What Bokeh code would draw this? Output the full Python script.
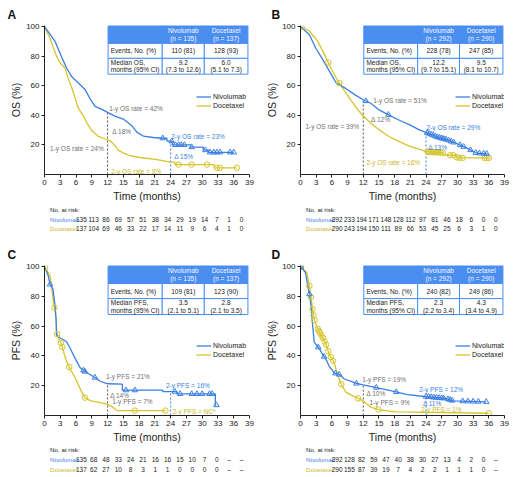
import numpy as np
from bokeh.plotting import figure
from bokeh.models import Range1d, FixedTicker, Legend, LegendItem
from bokeh.layouts import row, column
from bokeh.embed import file_html
from bokeh.resources import INLINE
from bokeh.core.properties import value

# ---------------- data ----------------
MONTH_TICKS = [0, 3, 6, 9, 12, 15, 18, 21, 24, 27, 30, 33, 36, 39]
PCT_TICKS = [20, 40, 60, 80, 100]
ARMS = ["Nivolumab", "Docetaxel"]

# Panel A (OS)
a_niv_t = [0, 1.0, 2.0, 2.6, 3.3, 4.2, 5.2, 6.1, 7.7, 8.7, 9.6, 10.9, 12.0, 13.4, 15.0, 16.6, 17.6, 18.8, 20.7, 22.6,
           23.3, 23.3, 24.3, 24.3, 27.8, 27.8, 30.2, 30.2, 31.2, 31.2, 36.0]
a_niv_s = [100, 95, 90, 85, 79, 72, 66, 63, 57.5, 51, 46, 44, 42, 39.5, 37.5, 33, 28.5, 26, 25, 24.5,
           24.5, 22.5, 22.5, 20, 20, 18.5, 18.5, 16.5, 16.5, 15, 15]
a_niv_cens = [22.5, 24.2, 24.9, 25.5, 26.0, 26.6, 28.0, 30.6, 31.5, 32.2, 32.8, 33.4, 35.3, 36.0]
a_doc_t = [0, 1.05, 1.7, 2.3, 2.95, 3.9, 4.5, 5.2, 5.8, 6.4, 7.4, 8.2, 9.0, 10.2, 11.5, 12.6, 13.4, 14.0, 15.0, 16.5,
           18.2, 21.4, 24.0, 24.8, 24.8, 32.3, 32.3, 36.6]
a_doc_s = [100, 92, 85.5, 80, 75.5, 72, 65, 58.5, 52, 45, 39.5, 34, 29.5, 26, 24, 22.5, 19.5, 16.5, 14.5, 12.5,
           11.5, 10, 8.3, 8.3, 6.7, 6.7, 4.5, 4.5]
a_doc_cens = [25.5, 28.0, 30.9, 32.8, 33.4, 36.6]
a_heads = [("Nivolumab", "(n = 135)"), ("Docetaxel", "(n = 137)")]
a_events = ["110 (81)", "128 (93)"]
a_median = [("9.2", "(7.3 to 12.6)"), ("6.0", "(5.1 to 7.3)")]
a_risk_niv = [135, 113, 86, 69, 57, 51, 38, 34, 29, 19, 14, 7, 1, 0]
a_risk_doc = [137, 104, 69, 46, 33, 22, 17, 14, 11, 9, 6, 4, 1, 0]
a_notes = ["1-y OS rate = 42%", "Δ 18%", "1-y OS rate = 24%", "2-y OS rate = 23%", "Δ 15%", "2-y OS rate = 8%"]

# Panel B (OS)
b_niv_t = [0, 1.7, 2.9, 4.2, 5.5, 6.8, 8.7, 10.6, 12.0, 13.5, 15.1, 17.0, 19.0, 20.9, 22.8, 24.0, 26.0, 28.0, 29.8,
           31.7, 33.6, 35.8]
b_niv_s = [100, 94.5, 85.5, 78, 70, 62, 58, 53.5, 50.5, 48, 43.5, 40, 36.5, 33.5, 30, 28.5, 25.5, 23.5, 21,
           18, 14.5, 14]
b_niv_cens = [12.5, 16.8, 24.2, 24.6, 25.0, 25.4, 25.8, 26.2, 26.6, 27.0, 27.4, 27.8, 28.3, 28.8, 29.3, 30.5, 31.2,
              32.5, 33.5, 34.2, 35.0, 35.6]
b_doc_t = [0, 1.7, 3.3, 4.6, 5.8, 7.1, 8.4, 9.7, 11.0, 12.0, 13.5, 15.1, 17.0, 19.0, 20.9, 22.8, 24.0, 27.2, 27.6,
           29.6, 30.0, 36.0]
b_doc_s = [100, 97, 90, 81, 72, 63.5, 56.5, 50, 43.5, 39.5, 34.5, 30, 25.5, 22, 19, 17, 15.5, 14.8, 13,
           13, 11.2, 11.2]
b_doc_cens = [0.2, 5.3, 7.4, 24.3, 24.6, 24.9, 25.2, 25.5, 25.8, 26.1, 26.4, 26.8, 27.2, 28.6, 29.2, 29.9, 30.4,
              31.0, 35.2, 35.6, 36.0]
b_heads = [("Nivolumab", "(n = 292)"), ("Docetaxel", "(n = 290)")]
b_events = ["228 (78)", "247 (85)"]
b_median = [("12.2", "(9.7 to 15.1)"), ("9.5", "(8.1 to 10.7)")]
b_risk_niv = [292, 233, 194, 171, 148, 128, 112, 97, 81, 46, 18, 6, 0, 0]
b_risk_doc = [290, 243, 194, 150, 111, 89, 66, 53, 45, 25, 6, 3, 1, 0]
b_notes = ["1-y OS rate = 51%", "Δ 12%", "1-y OS rate = 39%", "2-y OS rate = 29%", "Δ 13%", "2-y OS rate = 16%"]

# Panel C (PFS)
c_niv_t = [0, 0.7, 1.05, 1.6, 2.0, 2.2, 2.3, 3.0, 4.2, 4.9, 5.8, 6.8, 7.7, 9.6, 10.6, 12.0, 14.8, 14.8, 22.5,
           22.5, 25.2, 25.2, 32.5, 32.5, 32.7]
c_niv_s = [100, 94, 88, 85, 74, 65, 54, 52, 49.5, 45, 38.5, 32, 29.5, 25.5, 23, 21.3, 21, 17, 17,
           16, 16, 14.5, 14.5, 7, 7]
c_niv_cens = [1.05, 7.4, 7.7, 9.6, 15.5, 17.2, 24.8, 25.8, 28.0, 29.0, 30.0, 31.4, 31.9, 32.7]
c_doc_t = [0, 1.05, 1.4, 1.7, 1.9, 2.2, 2.3, 2.6, 3.3, 3.6, 4.2, 4.9, 5.8, 6.4, 7.1, 7.7, 8.7, 10.6, 12.0, 12.8,
           13.8, 23.0]
c_doc_s = [100, 94, 85, 76, 72.5, 65, 56, 52, 47.5, 43, 36.5, 31, 25.5, 21, 15.5, 12, 10, 8.7, 7.5, 6,
           3.3, 3.3]
c_doc_cens = [0.1, 1.9, 2.4, 3.1, 3.4, 4.7, 7.7, 17.2, 23.0]
c_heads = [("Nivolumab", "(n = 135)"), ("Docetaxel", "(n = 137)")]
c_events = ["109 (81)", "123 (90)"]
c_median = [("3.5", "(2.1 to 5.1)"), ("2.8", "(2.1 to 3.5)")]
c_risk_niv = [135, 68, 48, 33, 24, 21, 16, 16, 15, 10, 7, 0, None, None]
c_risk_doc = [137, 62, 27, 10, 8, 3, 1, 1, 0, 0, 0, 0, None, None]
c_notes = ["1-y PFS = 21%", "Δ 14%", "1-y PFS = 7%", "2-y PFS = 16%", "2-y PFS = NC*"]

# Panel D (PFS)
d_niv_t = [0, 0.95, 1.4, 1.7, 2.0, 2.2, 2.5, 2.6, 3.0, 3.6, 4.3, 4.9, 5.5, 6.5, 7.4, 8.4, 10.7, 12.0, 14.5, 18.3,
           20.2, 22.8, 24.0, 27.9, 29.2, 35.5]
d_niv_s = [100, 96, 87, 81.5, 74, 65, 54, 49.5, 47.5, 45, 40.5, 37.5, 33, 28.5, 27.5, 24.5, 21.5, 20.5, 18.7, 15.8,
           14.2, 13.1, 12.7, 11.4, 9.8, 9.2]
d_niv_cens = [0.1, 1.7, 3.4, 4.5, 6.7, 7.4, 10.7, 14.5, 18.3, 24.0, 24.5, 25.0, 25.5, 26.0, 26.5, 27.0, 27.4, 28.2,
              28.6, 29.0, 31.0, 32.0, 33.0, 34.0, 35.5]
d_doc_t = [0, 1.2, 1.7, 2.0, 2.3, 2.6, 3.0, 3.6, 4.3, 4.9, 5.5, 6.5, 7.1, 7.8, 8.7, 10.7, 12.0, 13.5, 15.1, 18.3,
           36.0]
d_doc_s = [100, 96, 87, 79.5, 71.5, 65, 60.5, 56, 52, 47.5, 41, 35, 27, 21, 15.5, 12, 9.8, 5.4, 3.8, 2.5, 1.5]
d_doc_cens = [0.1, 1.7, 2.0, 2.3, 2.5, 2.7, 3.3, 3.5, 3.7, 4.0, 4.3, 4.6, 4.9, 5.3, 5.8, 6.2, 7.8, 11.0, 14.9, 36.0]
d_heads = [("Nivolumab", "(n = 292)"), ("Docetaxel", "(n = 290)")]
d_events = ["240 (82)", "249 (86)"]
d_median = [("2.3", "(2.2 to 3.4)"), ("4.3", "(3.4 to 4.9)")]
d_risk_niv = [292, 128, 82, 59, 47, 40, 38, 30, 27, 13, 4, 2, 0, None]
d_risk_doc = [290, 155, 87, 39, 19, 7, 4, 2, 2, 1, 1, 1, 0, None]
d_notes = ["1-y PFS = 19%", "Δ 10%", "1-y PFS = 9%", "2-y PFS = 12%", "Δ 11%", "2-y PFS = 1%"]

# ---------------- styles / layout ----------------
FONT = "Liberation Sans"
BLUE = "#3b7fe3"
BLUE_HDR = "#4a8ef0"
YELLOW = "#d6c52c"
YELLOW_TXT = "#c9b825"
GRAY_TXT = "#707070"
DASH_GRAY = "#555555"
INK = "#222222"
NOTE_COLORS = {"g": GRAY_TXT, "b": BLUE, "y": YELLOW_TXT}

a_note_pos = [(12.3, 44.3, "g"), (12.9, 28.9, "g"), (1.05, 17.4, "g"), (24.1, 25.5, "b"), (24.7, 12.1, "b"), (12.7, 2.3, "y")]
b_note_pos = [(13.9, 50.0, "g"), (13.5, 37.3, "g"), (0.95, 32.2, "g"), (24.1, 31.8, "b"), (24.4, 18.2, "b"), (12.6, 7.8, "y")]
c_note_pos = [(11.7, 26.2, "g"), (12.5, 13.6, "g"), (12.9, 9.2, "g"), (23.1, 20.4, "b"), (24.4, 2.5, "y")]
d_note_pos = [(11.8, 24.2, "g"), (12.6, 14.7, "g"), (13.2, 8.7, "g"), (22.7, 17.5, "b"), (23.4, 8.1, "b"), (23.1, 3.8, "y")]


def txt(fig, xs, ys, texts, color, align="left", size="6.5px", style="normal"):
    fig.text(x=xs, y=ys, text=texts, text_align=align, text_baseline="middle",
             text_font=value(FONT), text_font_size=value(size), text_color=color,
             text_font_style=style)


def build(letter, ylabel, side, half, niv_t, niv_s, niv_c, doc_t, doc_s, doc_c,
          heads, events, median, med_label, risk_niv, risk_doc, notes, note_pos, legend_row):
    if side == "L":
        W, bl, br, toff, leg_x = 256, 44, 7, -37, 152
    else:
        W, bl, br, toff, leg_x = 256, 44, 8, -29, 155
    if half == "T":
        H, bt, bb, stand, HR, r0, sp = 204, 25, 30, 6.5, 34, 5, 9.5
    else:
        H, bt, bb, stand, HR, r0, sp = 207, 27, 30, 6.5, 31, 4, 10
    fw = W - bl - br
    fh = H - bt - bb

    p = figure(width=W, height=H, x_range=Range1d(0, 39), y_range=Range1d(0, 100.7), title=letter,
               output_backend="svg", toolbar_location=None,
               min_border_left=bl, min_border_right=br, min_border_top=bt, min_border_bottom=bb)
    p.title.text_font = FONT
    p.title.text_font_size = "12px"
    p.title.text_font_style = "bold"
    p.title.text_color = "#111111"
    p.title.align = "left"
    p.title.offset = toff
    p.title.standoff = stand
    p.outline_line_color = None
    p.grid.visible = False
    p.background_fill_color = "white"
    p.border_fill_color = "white"
    p.xaxis.ticker = FixedTicker(ticks=MONTH_TICKS)
    p.yaxis.ticker = FixedTicker(ticks=PCT_TICKS)
    p.xaxis.axis_label = "Time (months)"
    p.yaxis.axis_label = ylabel
    for ax in p.axis:
        ax.axis_line_color = INK
        ax.major_tick_line_color = INK
        ax.minor_tick_line_color = None
        ax.major_tick_out = 3
        ax.major_tick_in = 0
        ax.major_label_text_font = FONT
        ax.major_label_text_font_size = "8px"
        ax.major_label_text_color = INK
        ax.major_label_standoff = 2
        ax.axis_label_text_font = FONT
        ax.axis_label_text_font_size = "10.5px"
        ax.axis_label_text_font_style = "normal"
        ax.axis_label_text_color = INK
    p.xaxis.axis_label_standoff = 2
    p.yaxis.axis_label_standoff = 1

    # summary table inside the plot
    xe = [12.1, 22.4, 30.4, 38.7]
    ye = [100.6, 88.6, 78.5, 67.8]
    L, R, T, B, F = [], [], [], [], []
    for r_ in range(3):
        for c_ in range(3):
            L.append(xe[c_]); R.append(xe[c_ + 1]); T.append(ye[r_]); B.append(ye[r_ + 1])
            F.append(BLUE_HDR if r_ == 0 else "white")
    p.quad(left=L, right=R, top=T, bottom=B, fill_color=F, line_color=BLUE_HDR, line_width=1)
    cx = [(xe[1] + xe[2]) / 2, (xe[2] + xe[3]) / 2]
    hmid = (ye[0] + ye[1]) / 2
    emid = (ye[1] + ye[2]) / 2
    mmid = (ye[2] + ye[3]) / 2
    txt(p, cx * 2, [hmid + 2.5] * 2 + [hmid - 2.5] * 2,
        [heads[0][0], heads[1][0], heads[0][1], heads[1][1]], "#f4f8ff", "center")
    txt(p, [xe[0] + 0.5], [emid], ["Events, No. (%)"], INK)
    txt(p, cx, [emid] * 2, events, INK, "center")
    txt(p, [xe[0] + 0.5] * 2, [mmid + 2.5, mmid - 2.5], [med_label, "months (95% CI)"], INK)
    txt(p, cx * 2, [mmid + 2.5] * 2 + [mmid - 2.5] * 2,
        [median[0][0], median[1][0], median[0][1], median[1][1]], INK, "center")

    # landmark dashed lines
    top12 = float(np.interp(12, niv_t, niv_s))
    top24 = float(np.interp(24, niv_t, niv_s))
    p.segment(x0=[12], y0=[0], x1=[12], y1=[top12], line_color=DASH_GRAY, line_dash="2 2", line_width=1)
    p.segment(x0=[24], y0=[0], x1=[24], y1=[top24], line_color=BLUE, line_dash="2 2", line_width=1)

    # curves
    doc_line = p.line(doc_t, doc_s, line_color=YELLOW, line_width=1.3)
    niv_line = p.line(niv_t, niv_s, line_color=BLUE, line_width=1.3)
    p.scatter(doc_c, np.interp(doc_c, doc_t, doc_s), marker="circle", size=5.5, fill_color=None,
              line_color=YELLOW, line_width=1)
    p.scatter(niv_c, np.interp(niv_c, niv_t, niv_s), marker="triangle", size=5.5, fill_color=None,
              line_color=BLUE, line_width=1)

    for s_, (nx, ny, ck) in zip(notes, note_pos):
        txt(p, [nx], [ny], [s_], NOTE_COLORS[ck])

    leg = Legend(items=[LegendItem(label=ARMS[0], renderers=[niv_line]),
                        LegendItem(label=ARMS[1], renderers=[doc_line])],
                 location=(leg_x, fh - legend_row - 13.5))
    leg.padding = 0
    leg.margin = 0
    leg.spacing = 0
    leg.label_height = 9
    leg.glyph_height = 9
    leg.glyph_width = 15
    leg.label_standoff = 2
    leg.label_text_font = FONT
    leg.label_text_font_size = "7px"
    leg.label_text_color = INK
    leg.border_line_color = None
    leg.background_fill_alpha = 0
    p.add_layout(leg)

    # number at risk table
    col0 = bl + 2
    step = (fw - 5) / 13.0
    rk = figure(width=W, height=HR, x_range=Range1d(-col0 / step, (W - col0) / step),
                y_range=Range1d((HR - r0) / sp, -r0 / sp), output_backend="svg", toolbar_location=None,
                x_axis_type=None, y_axis_type=None, min_border=0)
    rk.outline_line_color = None
    rk.background_fill_color = "white"
    rk.border_fill_color = "white"
    lx = (7 - col0) / step
    txt(rk, [lx], [0], ["No. at risk:"], INK, size="6.2px")
    txt(rk, [lx], [1], [ARMS[0]], BLUE, size="6.2px")
    txt(rk, [lx], [2], [ARMS[1]], YELLOW_TXT, size="6.2px")
    idx = list(range(len(MONTH_TICKS)))
    fmt = lambda v: "–" if v is None else str(v)
    txt(rk, idx * 2, [1] * len(idx) + [2] * len(idx),
        [fmt(v) for v in risk_niv] + [fmt(v) for v in risk_doc], INK, "center")
    return column(p, rk, spacing=0)


pa = build("A", "OS (%)", "L", "T", a_niv_t, a_niv_s, a_niv_cens, a_doc_t, a_doc_s, a_doc_cens,
           a_heads, a_events, a_median, "Median OS,", a_risk_niv, a_risk_doc, a_notes, a_note_pos, 71)
pb = build("B", "OS (%)", "R", "T", b_niv_t, b_niv_s, b_niv_cens, b_doc_t, b_doc_s, b_doc_cens,
           b_heads, b_events, b_median, "Median OS,", b_risk_niv, b_risk_doc, b_notes, b_note_pos, 71)
pc = build("C", "PFS (%)", "L", "B", c_niv_t, c_niv_s, c_niv_cens, c_doc_t, c_doc_s, c_doc_cens,
           c_heads, c_events, c_median, "Median PFS,", c_risk_niv, c_risk_doc, c_notes, c_note_pos, 80)
pd_ = build("D", "PFS (%)", "R", "B", d_niv_t, d_niv_s, d_niv_cens, d_doc_t, d_doc_s, d_doc_cens,
            d_heads, d_events, d_median, "Median PFS,", d_risk_niv, d_risk_doc, d_notes, d_note_pos, 80)

layout = row(column(pa, pc, spacing=0), column(pb, pd_, spacing=0), spacing=0)
open("out.html", "w").write(file_html(layout, INLINE, title="Kaplan-Meier curves"))
